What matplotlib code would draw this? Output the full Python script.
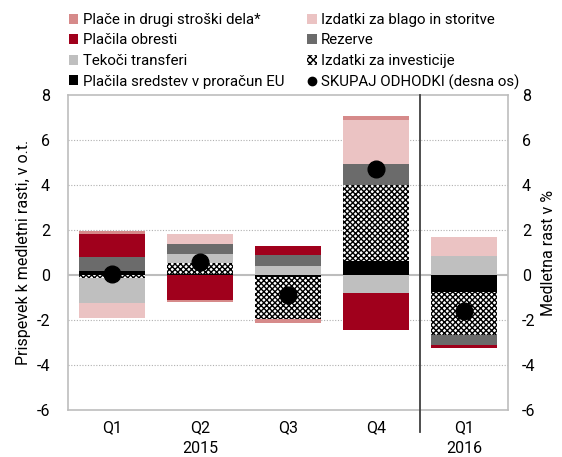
import matplotlib
matplotlib.use("Agg")
import matplotlib.pyplot as plt
import numpy as np
from matplotlib.patches import Patch
from matplotlib.lines import Line2D

plt.rcParams["font.family"] = ["Roboto", "DejaVu Sans"]
plt.rcParams["axes.unicode_minus"] = False
plt.rcParams["hatch.linewidth"] = 1.0

QUARTERS = ["Q1", "Q2", "Q3", "Q4", "Q1"]
YEARS = [("2015", 1), ("2016", 4)]

# series in stacking order (from zero outward)
EU = [0.16, 0.03, -0.10, 0.60, -0.77]
INVESTICIJE = [-0.15, 0.52, -1.85, 3.40, -1.90]
TEKOCI = [-1.08, 0.40, 0.40, -0.80, 0.86]
REZERVE = [0.62, 0.42, 0.48, 0.93, -0.44]
OBRESTI = [1.05, -1.10, 0.40, -1.65, -0.15]
BLAGO = [-0.70, 0.45, 0.00, 1.95, 0.85]
PLACE = [0.12, -0.10, -0.20, 0.20, 0.00]
SKUPAJ = [0.05, 0.58, -0.87, 4.70, -1.60]

C_PLACE = "#d68a8a"
C_BLAGO = "#ebc3c3"
C_OBRESTI = "#a0001c"
C_REZERVE = "#6b6b6b"
C_TEKOCI = "#bfbfbf"
FS = 11.5
LEG_FS = 10.8

series = [
    ("Plačila sredstev v proračun EU", EU, "black", None),
    ("Izdatki za investicije", INVESTICIJE, "white", "xxxxxx"),
    ("Tekoči transferi", TEKOCI, C_TEKOCI, None),
    ("Rezerve", REZERVE, C_REZERVE, None),
    ("Plačila obresti", OBRESTI, C_OBRESTI, None),
    ("Izdatki za blago in storitve", BLAGO, C_BLAGO, None),
    ("Plače in drugi stroški dela*", PLACE, C_PLACE, None),
]

fig = plt.figure(figsize=(5.62, 4.57), dpi=100)
ax = fig.add_axes([0.121, 0.103, 0.783, 0.689])

x = np.arange(len(QUARTERS))
width = 0.76
pos = np.zeros(len(x))
neg = np.zeros(len(x))
for name, vals, color, hatch in series:
    vals = np.array(vals)
    bottom = np.where(vals >= 0, pos, neg)
    if hatch:
        ax.bar(x, vals, width, bottom=bottom, color=color, hatch=hatch,
               edgecolor="black", linewidth=0, zorder=2)
    else:
        ax.bar(x, vals, width, bottom=bottom, color=color, edgecolor="none", zorder=2)
    pos += np.where(vals >= 0, vals, 0)
    neg += np.where(vals < 0, vals, 0)

ax.plot(x, SKUPAJ, "o", color="black", markersize=12, zorder=4)

ax.set_xlim(-0.5, len(x) - 0.5)
ax.set_ylim(-6, 8)
ax.set_yticks(np.arange(-6, 9, 2))
for yv in np.arange(-4, 8, 2):
    if yv != 0:
        ax.axhline(yv, color="#b0b0b0", linestyle=(0, (1, 1.5)), linewidth=0.8, zorder=1)
ax.axhline(0, color="#bdbdbd", linewidth=1.5, zorder=1)
for s in ax.spines.values():
    s.set_color("#bdbdbd")
    s.set_linewidth(1.2)
ax.tick_params(axis="y", length=0, labelsize=FS, pad=13)
ax.tick_params(axis="x", length=0, labelsize=FS, pad=7)
ax.set_xticks(x)
ax.set_xticklabels(QUARTERS)
ax.set_ylabel("Prispevek k medletni rasti, v o.t.", fontsize=FS, labelpad=4)

for label, pos_x in YEARS:
    ax.text(pos_x, -0.1, label, transform=ax.get_xaxis_transform(),
            ha="center", va="top", fontsize=FS)

# separator between years
ax.plot([3.5, 3.5], [1.0, -0.07], transform=ax.get_xaxis_transform(),
        color="#404040", linewidth=1.3, clip_on=False, zorder=3)

ax2 = ax.twinx()
ax2.set_ylim(-6, 8)
ax2.set_yticks(np.arange(-6, 9, 2))
ax2.tick_params(length=0, labelsize=FS, pad=10)
ax2.set_ylabel("Medletna rast v %", fontsize=FS, labelpad=4)
for s in ax2.spines.values():
    s.set_visible(False)

handles = [
    Patch(facecolor=C_PLACE, label="Plače in drugi stroški dela*"),
    Patch(facecolor=C_OBRESTI, label="Plačila obresti"),
    Patch(facecolor=C_TEKOCI, label="Tekoči transferi"),
    Patch(facecolor="black", label="Plačila sredstev v proračun EU"),
    Patch(facecolor=C_BLAGO, label="Izdatki za blago in storitve"),
    Patch(facecolor=C_REZERVE, label="Rezerve"),
    Patch(facecolor="white", edgecolor="black", linewidth=0, hatch="xxxxx",
          label="Izdatki za investicije"),
    Line2D([], [], marker="o", color="black", linestyle="none", markersize=6,
           label="SKUPAJ ODHODKI (desna os)"),
]
fig.legend(handles=handles, ncol=2, loc="upper left",
           bbox_to_anchor=(0.122, 0.972), frameon=False, fontsize=LEG_FS,
           handlelength=0.65, handleheight=0.65, handletextpad=0.3,
           labelspacing=0.44, columnspacing=1.5, borderpad=0, borderaxespad=0)

fig.savefig("out.png", dpi=100)
